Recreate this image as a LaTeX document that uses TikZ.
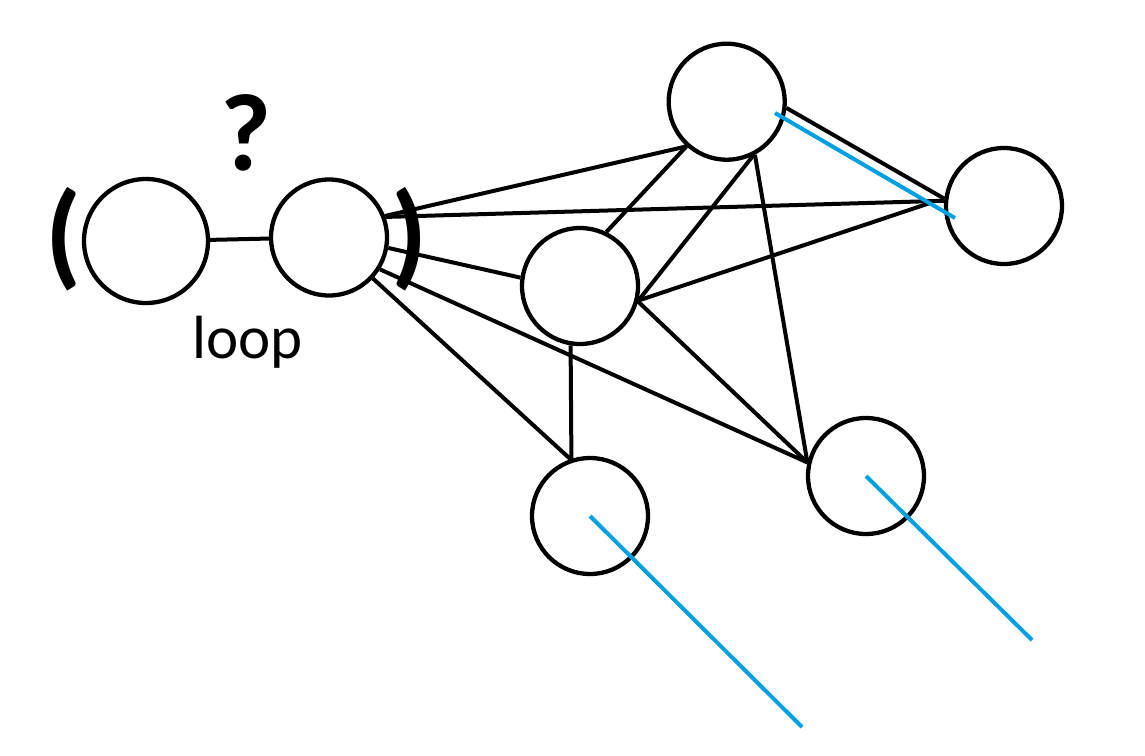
\documentclass[tikz,border=0pt]{standalone}
\usepackage{fontspec}
\setmainfont{Carlito}
\definecolor{skyblue}{RGB}{0,160,227}
\begin{document}
\begin{tikzpicture}[x=1pt,y=-1pt,
  circ/.style={circle,draw,line width=4.3pt,minimum size=116pt,inner sep=0pt},
  edge/.style={line width=4pt},
  blueline/.style={line width=4pt,draw=skyblue},
  paren/.style={font=\bfseries\fontsize{116}{116}\selectfont,inner sep=0pt}]
\useasboundingbox[fill=white] (0,0) rectangle (1145,755);
% nodes
\node[circ,minimum size=124pt] (A) at (146,241) {};
\node[circ] (B) at (329,237.5) {};
\node[circ] (C) at (580,286) {};
\node[circ] (D) at (726.7,101.7) {};
\node[circ] (E) at (1004,206) {};
\node[circ] (F) at (590,516) {};
\node[circ] (G) at (866,476) {};
% free ends
\coordinate (ce) at (930,203);
\coordinate (bds) at (775,113);
\coordinate (bde) at (955,218);
\coordinate (fb) at (802,727);
\coordinate (gb) at (1032,640);
% black connectors
\draw[edge] (A.1) -- (B.181);
\draw[edge] (B.21) -- (D.228);
\draw[edge] (B.20) -- (E.175);
\draw[edge] (B.-10) -- (C.172);
\draw[edge] (B.-32) -- (G.167);
\draw[edge] (B.-43) -- (F.109);
\draw[edge] (C.64) -- (D.228);
\draw[edge] (C.-14) -- (D.-64);
\draw[edge] (C.-14) -- (ce);
\draw[edge] (C.-15) -- (G.167);
\draw[edge] (C.261) -- (F.108);
\draw[edge] (D.-62) -- (G.167);
\draw[edge] (D.-6) -- (E.173);
% blue lines
\draw[blueline] (bds) -- (bde);
\draw[blueline] (F.center) -- (fb);
\draw[blueline] (G.center) -- (gb);
% texts
\node[font=\bfseries\fontsize{110}{110}\selectfont,inner sep=0pt] (q) at (246,133) {?};
\node[font=\fontsize{61}{61}\selectfont,anchor=base,inner sep=0pt] (loop) at (247.5,358) {loop};
\node[paren] (lp) at (64,239) {(};
\node[paren] (rp) at (410,239) {)};
\end{tikzpicture}
\end{document}
